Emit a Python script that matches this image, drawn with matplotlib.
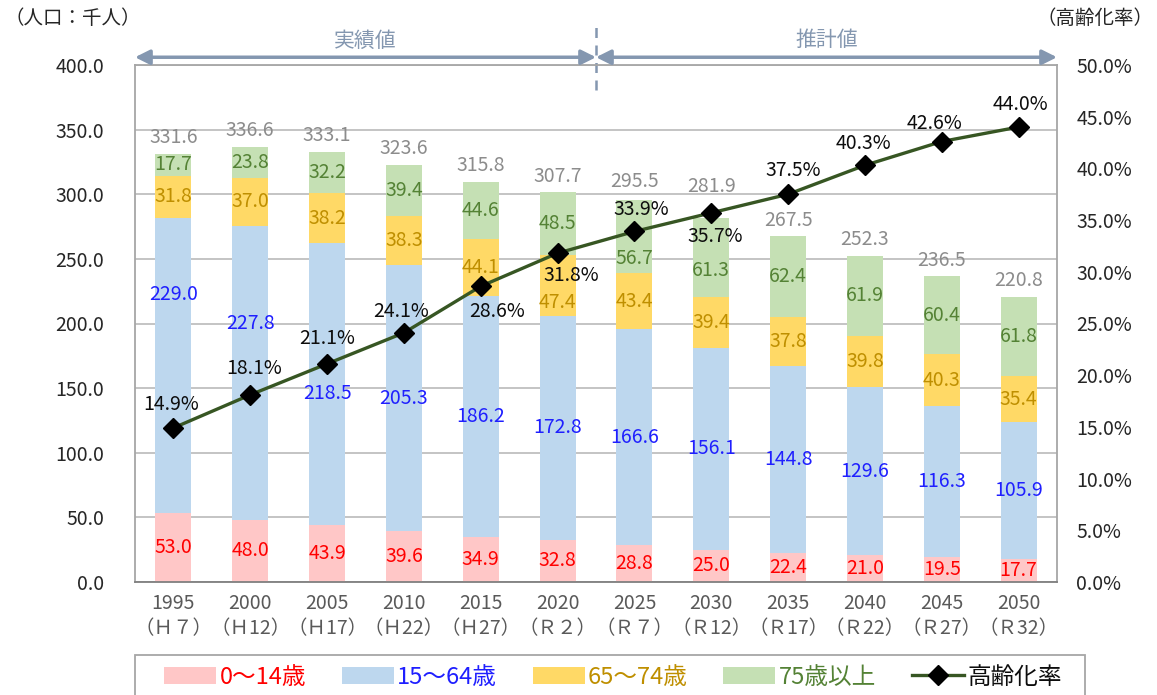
import numpy as np
import matplotlib.pyplot as plt
from matplotlib.patches import Patch, Rectangle
from matplotlib.lines import Line2D

plt.rcParams['font.family'] = ['Noto Sans CJK JP', 'DejaVu Sans']

# データ
years = ['1995', '2000', '2005', '2010', '2015', '2020',
         '2025', '2030', '2035', '2040', '2045', '2050']
eras = ['（Ｈ７）', '（Ｈ12）', '（Ｈ17）', '（Ｈ22）', '（Ｈ27）', '（Ｒ２）',
        '（Ｒ７）', '（Ｒ12）', '（Ｒ17）', '（Ｒ22）', '（Ｒ27）', '（Ｒ32）']
age_0_14 = [53.0, 48.0, 43.9, 39.6, 34.9, 32.8, 28.8, 25.0, 22.4, 21.0, 19.5, 17.7]
age_15_64 = [229.0, 227.8, 218.5, 205.3, 186.2, 172.8, 166.6, 156.1, 144.8, 129.6, 116.3, 105.9]
age_65_74 = [31.8, 37.0, 38.2, 38.3, 44.1, 47.4, 43.4, 39.4, 37.8, 39.8, 40.3, 35.4]
age_75 = [17.7, 23.8, 32.2, 39.4, 44.6, 48.5, 56.7, 61.3, 62.4, 61.9, 60.4, 61.8]
totals = [331.6, 336.6, 333.1, 323.6, 315.8, 307.7, 295.5, 281.9, 267.5, 252.3, 236.5, 220.8]
aging_rate = [14.9, 18.1, 21.1, 24.1, 28.6, 31.8, 33.9, 35.7, 37.5, 40.3, 42.6, 44.0]

series = [
    (age_0_14, '0～14歳', '#FFC7C7', '#FF0000'),
    (age_15_64, '15～64歳', '#BDD7EE', '#1F1FFF'),
    (age_65_74, '65～74歳', '#FFD966', '#BF8F00'),
    (age_75, '75歳以上', '#C5E0B4', '#548235'),
]

# ラベル位置の手動調整（区間中心からのずれ, 千人）
label_shift = {(1, 0): 55, (1, 1): 38, (1, 2): -7, (2, 5): -13, (3, 6): -17, (3, 7): -10}
# 合計ラベルの上方向オフセット（pt）
total_off = [4, 4, 4, 4, 4, 4, 6, 15, 4, 4, 4, 4]
# 高齢化率ラベルのオフセット（pt）
rate_off = [(-2, 17), (3, 19), (0, 18), (-2, 15), (12, -18), (10, -16),
            (5, 16), (3, -17), (4, 17), (-1, 16), (-5, 13), (1, 16)]

fig = plt.figure(figsize=(11.57, 6.95), dpi=100)
ax = fig.add_axes([135 / 1157, 1 - 582 / 695, 922 / 1157, 517 / 695])
x = np.arange(len(years))

bottom = np.zeros(len(years))
for si, (vals, name, fc, tc) in enumerate(series):
    vals = np.array(vals)
    ax.bar(x, vals, 0.47, bottom=bottom, color=fc, zorder=2)
    for i, v in enumerate(vals):
        yc = bottom[i] + v / 2 + label_shift.get((si, i), 0)
        ax.text(x[i], yc, f'{v:.1f}', ha='center', va='center',
                color=tc, fontsize=14, zorder=4)
    bottom += vals

for i, t in enumerate(totals):
    ax.annotate(f'{t:.1f}', (x[i], bottom[i]), xytext=(0, total_off[i]),
                textcoords='offset points', ha='center', va='bottom',
                color='#8C8C8C', fontsize=14)

ax.set_xlim(-0.5, 11.5)
ax.set_ylim(0, 400)
ax.set_yticks(np.arange(0, 401, 50))
ax.set_yticklabels([f'{v:.1f}' for v in np.arange(0, 401, 50)], fontsize=14, color='#262626')
ax.set_xticks(x)
ax.set_xticklabels([f'{y}\n{e}' for y, e in zip(years, eras)], fontsize=14,
                   color='#595959', linespacing=1.25)
ax.tick_params(axis='y', length=0, pad=22)
ax.tick_params(axis='x', length=0, pad=8)
ax.grid(axis='y', color='#BFBFBF', lw=1.3, zorder=0)
ax.set_axisbelow(True)
for s in ax.spines.values():
    s.set_color('#A6A6A6')
    s.set_linewidth(1.3)
ax.spines['bottom'].set_color('#7F7F7F')

ax2 = ax.twinx()
ax2.set_ylim(0, 50)
ax2.set_yticks(np.arange(0, 51, 5))
ax2.set_yticklabels([f'{v:.1f}%' for v in np.arange(0, 51, 5)], fontsize=14, color='#262626')
ax2.tick_params(axis='y', length=0, pad=14)
for s in ax2.spines.values():
    s.set_visible(False)
ax2.plot(x, aging_rate, color='#375623', lw=2.4, marker='D', markersize=10,
         markerfacecolor='black', markeredgecolor='black', zorder=5)
for i, r in enumerate(aging_rate):
    ax2.annotate(f'{r:.1f}%', (x[i], r), xytext=rate_off[i], textcoords='offset points',
                 ha='center', va='center', fontsize=14, color='#0D0D0D', zorder=6)

# 実績値・推計値の矢印
arrow_c = '#8497B0'
ax.annotate('', xy=(-0.5, 406), xytext=(5.5, 406), annotation_clip=False,
            arrowprops=dict(arrowstyle='<|-|>', color=arrow_c, lw=2.5,
                            mutation_scale=22, shrinkA=0, shrinkB=0))
ax.annotate('', xy=(5.5, 406), xytext=(11.5, 406), annotation_clip=False,
            arrowprops=dict(arrowstyle='<|-|>', color=arrow_c, lw=2.5,
                            mutation_scale=22, shrinkA=0, shrinkB=0))
ax.vlines(5.5, 381, 431, colors=arrow_c, linestyles=(0, (4, 3)), lw=1.8, clip_on=False)
ax.text(2.5, 419, '実績値', ha='center', va='center', fontsize=15, color=arrow_c)
ax.text(8.5, 419, '推計値', ha='center', va='center', fontsize=15, color=arrow_c)

fig.text(4 / 1157, 1 - 18 / 695, '（人口：千人）', ha='left', va='center', fontsize=14, color='#262626')
fig.text(1153 / 1157, 1 - 18 / 695, '（高齢化率）', ha='right', va='center', fontsize=14, color='#262626')

# 凡例
fig.patches.append(Rectangle((135 / 1157, -0.01), 950 / 1157, 40 / 695 + 0.01,
                             transform=fig.transFigure, facecolor='white',
                             edgecolor='#A6A6A6', lw=1.3))
handles = [Patch(facecolor=fc, edgecolor='none') for _, _, fc, _ in series]
handles.append(Line2D([], [], color='#375623', lw=2.4, marker='D', markersize=10,
                      markerfacecolor='black', markeredgecolor='black'))
labels = [n for _, n, _, _ in series] + ['高齢化率']
text_colors = [tc for _, _, _, tc in series] + ['#0D0D0D']
leg = fig.legend(handles, labels, loc='center', ncol=5,
                 bbox_to_anchor=(613 / 1157, 1 - 677 / 695),
                 fontsize=17, frameon=False, handlelength=2.2, handleheight=0.7,
                 handletextpad=0.15, columnspacing=1.5, borderaxespad=0)
for t, c in zip(leg.get_texts(), text_colors):
    t.set_color(c)

fig.savefig('out.png', dpi=100)
